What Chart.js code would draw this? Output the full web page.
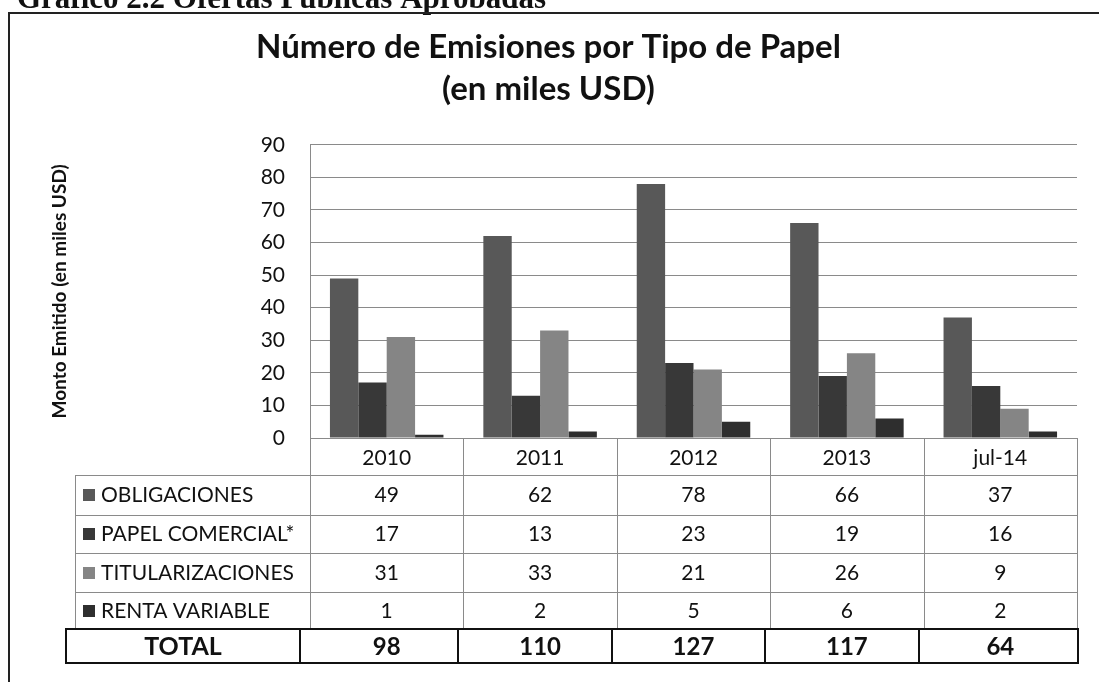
<!DOCTYPE html>
<html lang="es">
<head>
<meta charset="utf-8">
<title>Número de Emisiones por Tipo de Papel</title>
<script src="https://cdn.jsdelivr.net/npm/chart.js@4.4.1/dist/chart.umd.min.js"></script>
<style>
  html, body { margin: 0; padding: 0; background: #fff; }
  #wrap { width: 1099px; height: 682px; position: relative; }
</style>
</head>
<body>
<div id="wrap"><canvas id="grafico"></canvas></div>
<script>
const periodos = ['2010', '2011', '2012', '2013', 'jul-14']
const obligaciones = [49, 62, 78, 66, 37]
const papelComercial = [17, 13, 23, 19, 16]
const titularizaciones = [31, 33, 21, 26, 9]
const rentaVariable = [1, 2, 5, 6, 2]
const nombres = ['OBLIGACIONES', 'PAPEL COMERCIAL*', 'TITULARIZACIONES', 'RENTA VARIABLE']
const yMax = 90
const yPaso = 10

const series = [obligaciones, papelComercial, titularizaciones, rentaVariable]
const colores = ['#585858', '#383838', '#858585', '#2e2e2e']
const totales = periodos.map((p, i) => series.reduce((s, d) => s + d[i], 0))

// filas de la tabla bajo el grafico (y en pixeles)
const lineasFila = [475, 515, 553, 592, 629]
const centrosFila = [495, 534, 573, 611]
const colorLinea = '#8a8a8a'

const tablaPlugin = {
  id: 'tabla',
  beforeDraw(chart) {
    const ctx = chart.ctx
    ctx.save()
    ctx.fillStyle = '#fff'
    ctx.fillRect(0, 0, chart.width, chart.height)
    // encabezado del documento, cortado arriba
    ctx.fillStyle = '#111'
    ctx.font = 'bold 31px "Liberation Serif"'
    ctx.textBaseline = 'alphabetic'
    ctx.fillText('Gráfico 2.2 Ofertas Públicas Aprobadas', 17, 8)
    // marco
    ctx.strokeStyle = '#222'
    ctx.lineWidth = 2
    ctx.beginPath()
    ctx.moveTo(9, chart.height)
    ctx.lineTo(9, 13)
    ctx.lineTo(chart.width, 13)
    ctx.stroke()
    ctx.restore()
  },
  afterDraw(chart) {
    const { ctx, chartArea } = chart
    const x = chart.scales.x
    const ancho = (chartArea.right - chartArea.left) / periodos.length
    const bordes = periodos.map((p, i) => chartArea.left + i * ancho).concat(chartArea.right)
    const yBase = chartArea.bottom
    const izq = 75
    const finTabla = lineasFila[lineasFila.length - 1]

    ctx.save()
    ctx.strokeStyle = colorLinea
    ctx.lineWidth = 1
    ctx.beginPath()
    lineasFila.slice(0, 4).forEach(y => {
      ctx.moveTo(izq, y + 0.5)
      ctx.lineTo(chartArea.right, y + 0.5)
    })
    bordes.forEach(b => {
      ctx.moveTo(Math.round(b) + 0.5, yBase)
      ctx.lineTo(Math.round(b) + 0.5, finTabla)
    })
    ctx.moveTo(izq + 0.5, lineasFila[0])
    ctx.lineTo(izq + 0.5, finTabla)
    ctx.stroke()

    ctx.fillStyle = '#111'
    ctx.textBaseline = 'middle'
    ctx.font = '21px Lato'
    ctx.textAlign = 'center'
    periodos.forEach((p, i) => ctx.fillText(p, x.getPixelForValue(i), 458))

    series.forEach((d, s) => {
      const yc = centrosFila[s]
      ctx.fillStyle = colores[s]
      ctx.fillRect(83, yc - 6, 12, 12)
      ctx.fillStyle = '#111'
      ctx.textAlign = 'left'
      ctx.fillText(nombres[s], 101, yc)
      ctx.textAlign = 'center'
      d.forEach((v, i) => ctx.fillText(String(v), x.getPixelForValue(i), yc))
    })

    // fila TOTAL
    const tTop = finTabla, tBot = 663, tIzq = 66, tDer = Math.round(chartArea.right) + 1
    ctx.strokeStyle = '#111'
    ctx.lineWidth = 2
    ctx.strokeRect(tIzq, tTop, tDer - tIzq, tBot - tTop)
    ctx.beginPath()
    const divisiones = [300].concat(bordes.slice(1, -1).map(b => Math.round(b) - 5))
    divisiones.forEach(b => {
      ctx.moveTo(b, tTop)
      ctx.lineTo(b, tBot)
    })
    ctx.stroke()
    ctx.fillStyle = '#111'
    ctx.font = 'bold 25px Lato'
    ctx.fillText('TOTAL', (tIzq + 300) / 2, (tTop + tBot) / 2 + 1)
    ctx.font = 'bold 24px Lato'
    totales.forEach((t, i) => ctx.fillText(String(t), x.getPixelForValue(i), (tTop + tBot) / 2 + 1))
    ctx.restore()
  }
}

const data = {
  labels: periodos,
  datasets: series.map((d, s) => ({
    label: nombres[s],
    data: d,
    backgroundColor: colores[s],
    borderWidth: 0,
    categoryPercentage: 0.74,
    barPercentage: 1.0
  }))
}

const config = {
  type: 'bar',
  data: data,
  options: {
    responsive: true,
    maintainAspectRatio: false,
    animation: false,
    layout: { padding: { left: 20, right: 22, top: 0, bottom: 244 } },
    plugins: {
      legend: { display: false },
      tooltip: { enabled: false },
      title: {
        display: true,
        text: ['Número de Emisiones por Tipo de Papel', '(en miles USD)'],
        color: '#111',
        font: { family: 'Lato', size: 33, weight: 'bold', lineHeight: 1.27 },
        padding: { top: 26, bottom: 35 }
      }
    },
    scales: {
      x: { display: false },
      y: {
        min: 0,
        max: yMax,
        ticks: { stepSize: yPaso, padding: 25, color: '#111', font: { family: 'Lato', size: 21 } },
        grid: { color: colorLinea, drawTicks: false },
        border: { color: colorLinea },
        title: {
          display: true,
          text: 'Monto Emitido (en miles USD)',
          color: '#111',
          font: { family: 'Lato', size: 19, weight: 'bold' },
          padding: { top: 28, bottom: 0 }
        },
        afterFit(s) { s.width = 290 }
      }
    }
  },
  plugins: [tablaPlugin]
}

const grafico = new Chart(document.getElementById('grafico'), config)
</script>
</body>
</html>
